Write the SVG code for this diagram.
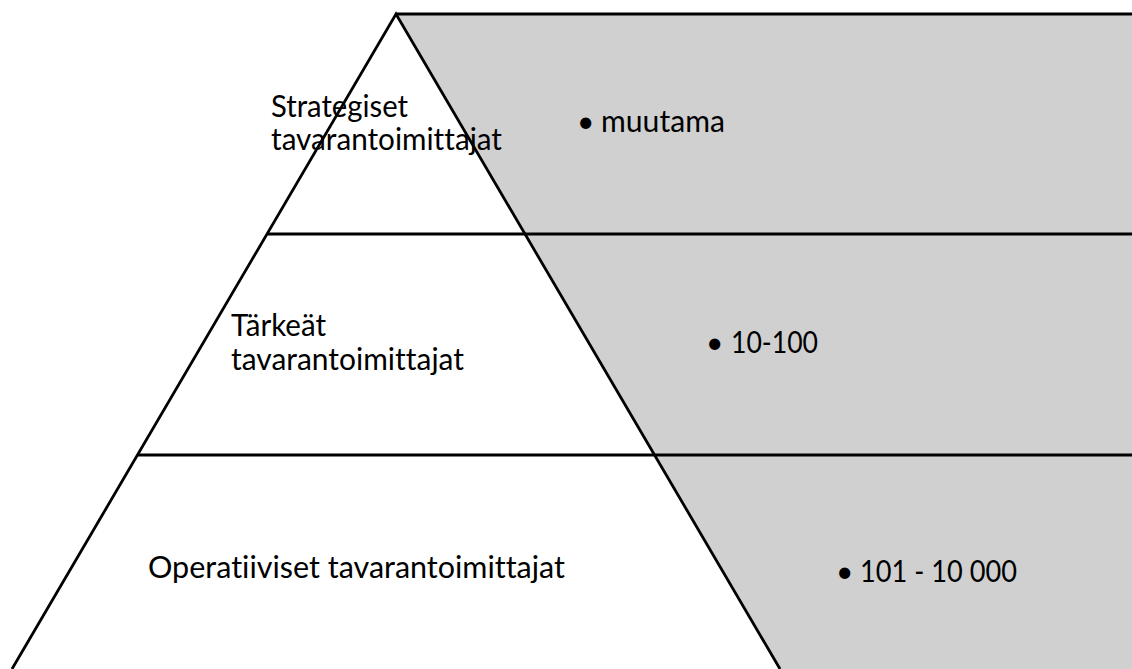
<svg xmlns="http://www.w3.org/2000/svg" width="1132" height="669" viewBox="0 0 1132 669">
<style>
.t{font-family:Lato,"Open Sans","Liberation Sans",sans-serif;font-size:30px;fill:#000;font-variant-ligatures:none;font-feature-settings:"liga" 0}
.ln{stroke:#000;stroke-width:2.8;fill:none}
</style>
<rect width="1132" height="669" fill="#fff"/>
<g id="shade">
<polygon points="396,14 1132,14 1132,669 780,669" fill="#d0d0d0"/>
</g>
<g id="connectors">
<line class="ln" x1="396" y1="14" x2="1132" y2="14" stroke-width="2"/>
<line class="ln" x1="267" y1="234" x2="1132" y2="234"/>
<line class="ln" x1="138" y1="455" x2="1132" y2="455"/>
<polyline class="ln" points="12,669 396,14 780,669"/>
</g>
<g id="node-strategiset">
<text class="t" x="271" y="117" textLength="137" lengthAdjust="spacingAndGlyphs">Strategiset</text>
<text class="t" x="271" y="150" textLength="231" lengthAdjust="spacingAndGlyphs">tavarantoimittajat</text>
</g>
<g id="node-tarkeat">
<text class="t" x="231" y="336" textLength="95" lengthAdjust="spacingAndGlyphs">Tärkeät</text>
<text class="t" x="231" y="370" textLength="233" lengthAdjust="spacingAndGlyphs">tavarantoimittajat</text>
</g>
<g id="node-operatiiviset">
<text class="t" x="148" y="578" textLength="417" lengthAdjust="spacingAndGlyphs">Operatiiviset tavarantoimittajat</text>
</g>
<g id="node-muutama">
<text class="t" x="577" y="132">•</text>
<text class="t" x="601" y="132" textLength="124" lengthAdjust="spacingAndGlyphs">muutama</text>
</g>
<g id="node-10-100">
<text class="t" x="706" y="353">•</text>
<text class="t" x="731" y="353" textLength="87" lengthAdjust="spacingAndGlyphs">10-100</text>
</g>
<g id="node-101-10000">
<text class="t" x="836" y="582">•</text>
<text class="t" x="860" y="582" textLength="157" lengthAdjust="spacingAndGlyphs">101 - 10 000</text>
</g>
</svg>
